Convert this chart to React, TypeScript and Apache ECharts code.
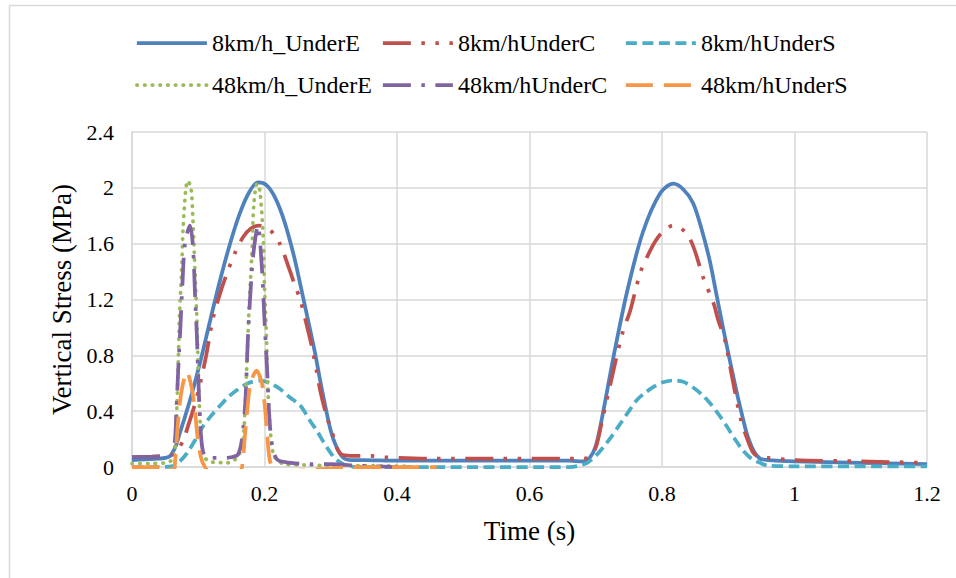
import React, { useEffect, useRef } from "react";
import * as echarts from "echarts";

// ---- axis ranges / ticks ----
const timeMin = 0;
const timeMax = 1.2;
const timeStep = 0.2;
const stressMin = 0;
const stressMax = 2.4;
const stressStep = 0.4;

// ---- series names ----
const seriesNames = [
  "8km/h_UnderE",
  "8km/hUnderC",
  "8km/hUnderS",
  "48km/h_UnderE",
  "48km/hUnderC",
  "48km/hUnderS",
];

// ---- data: [time (s), vertical stress (MPa)] ----
const speed8UnderE: [number, number][] = [
  [0, 0.05], [0.02, 0.055], [0.04, 0.06], [0.05, 0.065], [0.058, 0.08], [0.066, 0.15],
  [0.072, 0.24], [0.08, 0.36], [0.09, 0.52], [0.1026, 0.745], [0.118, 1.05], [0.133, 1.34],
  [0.148, 1.6], [0.163, 1.82], [0.177, 1.97], [0.19, 2.04], [0.203, 2.02], [0.216, 1.93],
  [0.23, 1.76], [0.245, 1.5], [0.258, 1.22], [0.269, 0.98], [0.277, 0.8], [0.284, 0.62],
  [0.292, 0.43], [0.3, 0.26], [0.308, 0.15], [0.318, 0.07], [0.33, 0.05], [0.35, 0.05],
  [0.4, 0.045], [0.5, 0.045], [0.6, 0.045], [0.66, 0.045], [0.68, 0.04], [0.69, 0.06],
  [0.7, 0.15], [0.711, 0.39], [0.726, 0.77], [0.747, 1.25], [0.771, 1.68], [0.797, 1.96],
  [0.817, 2.03], [0.832, 1.99], [0.847, 1.89], [0.86, 1.7], [0.872, 1.48], [0.882, 1.24],
  [0.892, 1.0], [0.903, 0.75], [0.913, 0.53], [0.921, 0.37], [0.928, 0.24], [0.938, 0.12],
  [0.948, 0.06], [0.96, 0.05], [1.0, 0.04], [1.1, 0.03], [1.2, 0.02],
];

const speed8UnderC: [number, number][] = [
  [0, 0.07], [0.03, 0.075], [0.05, 0.08], [0.06, 0.09], [0.07, 0.13], [0.078, 0.2],
  [0.085, 0.3], [0.095, 0.45], [0.103, 0.6], [0.112, 0.8], [0.122, 1.06], [0.134, 1.26],
  [0.142, 1.37], [0.155, 1.53], [0.168, 1.65], [0.18, 1.71], [0.192, 1.73], [0.208, 1.7],
  [0.223, 1.6], [0.238, 1.41], [0.246, 1.3], [0.254, 1.2], [0.262, 1.05], [0.272, 0.85],
  [0.279, 0.68], [0.284, 0.55], [0.294, 0.36], [0.302, 0.25], [0.309, 0.14], [0.316, 0.09],
  [0.33, 0.08], [0.36, 0.08], [0.38, 0.07], [0.45, 0.06], [0.55, 0.06], [0.65, 0.06],
  [0.68, 0.06], [0.69, 0.07], [0.7, 0.14], [0.709, 0.32], [0.729, 0.74], [0.741, 0.97],
  [0.752, 1.12], [0.767, 1.39], [0.777, 1.5], [0.789, 1.61], [0.8, 1.68], [0.817, 1.73],
  [0.836, 1.68], [0.848, 1.57], [0.862, 1.36], [0.878, 1.17], [0.885, 1.05], [0.895, 0.91],
  [0.906, 0.64], [0.918, 0.36], [0.928, 0.21], [0.938, 0.1], [0.948, 0.07], [0.96, 0.065],
  [1.0, 0.05], [1.1, 0.04], [1.2, 0.03],
];

const speed8UnderS: [number, number][] = [
  [0, 0], [0.04, 0], [0.06, 0.005], [0.07, 0.03], [0.083, 0.1], [0.095, 0.19], [0.107, 0.29],
  [0.12, 0.37], [0.133, 0.44], [0.145, 0.5], [0.158, 0.55], [0.175, 0.6], [0.193, 0.62],
  [0.208, 0.6], [0.223, 0.56], [0.238, 0.5], [0.254, 0.44], [0.269, 0.33], [0.279, 0.26],
  [0.289, 0.18], [0.3, 0.1], [0.309, 0.05], [0.324, 0.01], [0.34, 0], [0.5, 0], [0.66, 0],
  [0.675, 0.01], [0.687, 0.03], [0.7, 0.08], [0.711, 0.14], [0.724, 0.22], [0.737, 0.31],
  [0.75, 0.4], [0.762, 0.48], [0.774, 0.53], [0.786, 0.57], [0.8, 0.605], [0.817, 0.62],
  [0.832, 0.61], [0.847, 0.57], [0.86, 0.52], [0.872, 0.46], [0.885, 0.38], [0.898, 0.29],
  [0.91, 0.2], [0.922, 0.12], [0.935, 0.06], [0.948, 0.03], [0.96, 0.01], [1.0, 0.005],
  [1.2, 0.005],
];

const speed48UnderE: [number, number][] = [
  [0, 0.025], [0.03, 0.025], [0.05, 0.03], [0.06, 0.05], [0.065, 0.14], [0.068, 0.46],
  [0.07, 0.79], [0.072, 1.12], [0.075, 1.41], [0.077, 1.7], [0.081, 1.98], [0.084, 2.05],
  [0.089, 2.0], [0.092, 1.77], [0.095, 1.41], [0.098, 1.05], [0.1, 0.69], [0.103, 0.31],
  [0.107, 0.1], [0.113, 0.05], [0.122, 0.035], [0.143, 0.03], [0.155, 0.05], [0.166, 0.14],
  [0.171, 0.46], [0.174, 0.82], [0.177, 1.17], [0.181, 1.53], [0.184, 1.89], [0.189, 2.03],
  [0.193, 1.98], [0.198, 1.65], [0.2, 1.29], [0.203, 0.93], [0.205, 0.57], [0.209, 0.25],
  [0.213, 0.1], [0.219, 0.05], [0.23, 0.02], [0.26, 0.015], [0.3, 0.01], [0.35, 0.01],
  [0.42, 0.005],
];

const speed48UnderC: [number, number][] = [
  [0, 0.07], [0.03, 0.07], [0.05, 0.075], [0.058, 0.08], [0.062, 0.1], [0.065, 0.2],
  [0.067, 0.4], [0.07, 0.72], [0.073, 1.0], [0.076, 1.3], [0.08, 1.6], [0.0875, 1.73],
  [0.092, 1.58], [0.095, 1.25], [0.098, 0.93], [0.1, 0.64], [0.103, 0.31], [0.106, 0.14],
  [0.11, 0.08], [0.118, 0.065], [0.137, 0.065], [0.15, 0.07], [0.16, 0.09], [0.166, 0.2],
  [0.171, 0.46], [0.175, 0.93], [0.181, 1.41], [0.185, 1.6], [0.19, 1.73], [0.196, 1.43],
  [0.2, 1.05], [0.204, 0.69], [0.208, 0.31], [0.213, 0.12], [0.22, 0.05], [0.24, 0.03],
  [0.27, 0.02], [0.3, 0.02], [0.34, 0.01], [0.4, 0],
];

const speed48UnderS: [number, number][] = [
  [0, 0], [0.03, 0], [0.055, 0], [0.062, -0.05], [0.066, 0.1], [0.07, 0.35], [0.075, 0.55],
  [0.083, 0.68], [0.09, 0.57], [0.095, 0.41], [0.099, 0.21], [0.104, 0.07], [0.11, 0.0],
  [0.12, -0.05], [0.155, -0.05], [0.165, -0.02], [0.17, 0.2], [0.174, 0.41], [0.179, 0.6],
  [0.188, 0.69], [0.196, 0.6], [0.2, 0.46], [0.204, 0.24], [0.208, 0.05], [0.215, -0.02],
  [0.23, -0.03], [0.3, -0.01], [0.35, 0], [0.46, 0],
];

const seriesData = [
  speed8UnderE,
  speed8UnderC,
  speed8UnderS,
  speed48UnderE,
  speed48UnderC,
  speed48UnderS,
];

// ---- styling ----
const colors = ["#4F81BD", "#C0504D", "#4BACC6", "#9BBB59", "#8064A2", "#F79646"];
const dashes: (number[] | "solid")[] = [
  "solid",
  [28, 10.5, 3.5, 10.5, 3.5, 10.5],
  [11, 5.5],
  [0.5, 7.2],
  [28, 10.5, 3.5, 10.5],
  [27, 11],
];
const caps = ["butt", "butt", "butt", "round", "butt", "butt"];
const legendPos = [
  [135, 31],
  [381, 31],
  [624, 31],
  [135, 73],
  [381, 73],
  [624, 73],
];

const FONT = "Liberation Serif";

export default function App() {
  const ref = useRef<HTMLDivElement>(null);

  useEffect(() => {
    if (!ref.current) return;
    const chart = echarts.init(ref.current, undefined, { renderer: "svg" });

    const option: any = {
      animation: false,
      backgroundColor: "#ffffff",
      textStyle: { fontFamily: FONT },
      graphic: [
        {
          type: "rect",
          shape: { x: 9.5, y: 5.5, width: 2000, height: 2000 },
          style: { fill: "none", stroke: "#d9d9d9", lineWidth: 1.5 },
          silent: true,
          z: -10,
        },
      ],
      legend: seriesNames.map((name, i) => ({
        data: [name],
        left: legendPos[i][0],
        top: legendPos[i][1],
        padding: 0,
        itemWidth: 70,
        itemHeight: 14,
        selectedMode: false,
        itemStyle: { opacity: 0 },
        lineStyle: {
          color: colors[i],
          width: 3.75,
          type: dashes[i],
          cap: caps[i],
        },
        textStyle: {
          fontFamily: FONT,
          fontSize: 24,
          color: "#000",
          lineHeight: 24,
        },
      })),
      grid: { left: 132, right: 29, top: 132, bottom: 111, containLabel: false },
      xAxis: {
        type: "value",
        min: timeMin,
        max: timeMax,
        interval: timeStep,
        name: "Time (s)",
        nameLocation: "middle",
        nameGap: 50,
        nameTextStyle: { fontFamily: FONT, fontSize: 27, color: "#000" },
        axisLine: { show: true, lineStyle: { color: "#d9d9d9", width: 1.5 } },
        axisTick: { show: false },
        axisLabel: { fontFamily: FONT, fontSize: 22, color: "#000", margin: 15 },
        splitLine: { show: true, lineStyle: { color: "#d9d9d9", width: 1.5 } },
      },
      yAxis: {
        type: "value",
        min: stressMin,
        max: stressMax,
        interval: stressStep,
        name: "Vertical Stress (MPa)",
        nameLocation: "middle",
        nameGap: 56,
        nameTextStyle: { fontFamily: FONT, fontSize: 27, color: "#000" },
        axisLine: { show: true, lineStyle: { color: "#d9d9d9", width: 1.5 } },
        axisTick: { show: false },
        axisLabel: { fontFamily: FONT, fontSize: 22, color: "#000", margin: 18 },
        splitLine: { show: true, lineStyle: { color: "#d9d9d9", width: 1.5 } },
      },
      series: seriesNames.map((name, i) => ({
        name,
        type: "line",
        data: seriesData[i],
        showSymbol: false,
        symbol: "none",
        smooth: 0.3,
        clip: true,
        color: colors[i],
        itemStyle: { color: colors[i] },
        lineStyle: {
          color: colors[i],
          width: 3.75,
          type: dashes[i],
          cap: caps[i],
        },
        z: 2 + i,
      })),
    };

    chart.setOption(option);
    return () => chart.dispose();
  }, []);

  return (
    <div
      ref={ref}
      style={{ position: "fixed", left: 0, top: 0, width: 956, height: 578, background: "#fff" }}
    />
  );
}
